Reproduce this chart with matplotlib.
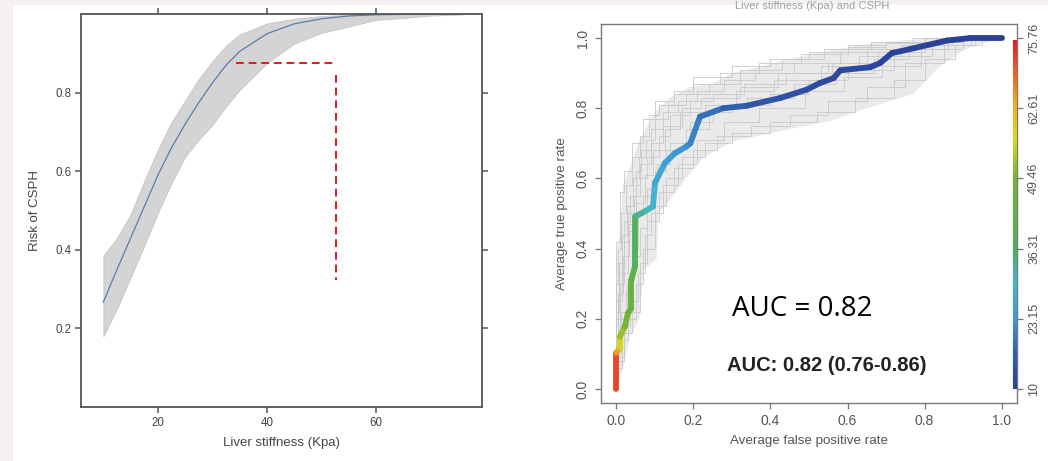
import numpy as np
import matplotlib
matplotlib.use("Agg")
import matplotlib.pyplot as plt
from matplotlib.collections import LineCollection
from matplotlib.colors import LinearSegmentedColormap, Normalize
from matplotlib.patches import Rectangle

plt.rcParams['font.family'] = ['Liberation Sans', 'DejaVu Sans']

# ---- left panel: risk of CSPH vs liver stiffness ----
ls_x = [10, 12.5, 15, 17.5, 20, 22.5, 25, 27.5, 30, 32.5, 35, 40, 45, 50, 55, 60, 65, 70, 76]
risk = [0.267, 0.35, 0.43, 0.51, 0.59, 0.66, 0.72, 0.775, 0.825, 0.87, 0.905, 0.95,
        0.975, 0.988, 0.995, 0.998, 0.999, 1.0, 1.0]
risk_hi = [0.385, 0.43, 0.49, 0.575, 0.655, 0.725, 0.78, 0.835, 0.88, 0.92, 0.948, 0.976,
           0.988, 0.995, 0.998, 1.0, 1.0, 1.0, 1.0]
risk_lo = [0.18, 0.25, 0.33, 0.41, 0.494, 0.57, 0.637, 0.68, 0.718, 0.765, 0.807, 0.875,
           0.925, 0.952, 0.968, 0.985, 0.99, 0.996, 0.999]
# red dashed marker
cut_x = [34.3, 52.6]
cut_y = 0.876
cut_vy = [0.845, 0.324]

# ---- right panel: ROC ----
roc_fpr = [0, 0, 0.009, 0.009, 0.022, 0.03, 0.039, 0.039, 0.048, 0.048, 0.074, 0.095, 0.1,
           0.126, 0.152, 0.182, 0.192, 0.217, 0.277, 0.338, 0.425, 0.494, 0.529, 0.564,
           0.581, 0.659, 0.685, 0.715, 0.772, 0.859, 0.919, 1.0]
roc_tpr = [0, 0.103, 0.117, 0.149, 0.178, 0.216, 0.23, 0.311, 0.349, 0.491, 0.506, 0.52, 0.587,
           0.644, 0.672, 0.691, 0.70, 0.776, 0.80, 0.807, 0.829, 0.853, 0.872, 0.886,
           0.908, 0.917, 0.929, 0.957, 0.971, 0.993, 1.0, 1.0]
roc_cut = [75.76, 68, 60, 54, 50, 48, 46, 43, 41, 35, 32, 30, 27, 25, 23.5, 22.5, 21.5, 19.5,
           17, 15.5, 14, 13, 12.5, 12.2, 12, 11.6, 11.4, 11.1, 10.8, 10.4, 10.2, 10]

env_hi_fpr = [0, 0, 0.009, 0.017, 0.035, 0.06, 0.1, 0.14, 0.19, 0.25, 0.3, 0.38, 0.47, 0.58,
              0.69, 0.78, 0.85, 1.0]
env_hi_tpr = [0, 0.39, 0.44, 0.58, 0.63, 0.71, 0.79, 0.83, 0.86, 0.87, 0.9, 0.92, 0.945, 0.97,
              0.988, 0.996, 1.0, 1.0]
env_lo_fpr = [0, 0.017, 0.035, 0.06, 0.07, 0.104, 0.11, 0.14, 0.18, 0.226, 0.3, 0.425, 0.56,
              0.65, 0.77, 0.84, 0.9, 0.95, 1.0]
env_lo_tpr = [0, 0.06, 0.15, 0.2, 0.34, 0.37, 0.5, 0.54, 0.6, 0.66, 0.705, 0.735, 0.765, 0.8,
              0.84, 0.92, 0.965, 0.985, 1.0]

boot_fpr = [
    [0, 0, 0.01, 0.02, 0.04, 0.07, 0.1, 0.15, 0.2, 0.3, 0.4, 0.5, 0.6, 0.7, 0.8, 1.0],
    [0, 0.01, 0.02, 0.03, 0.05, 0.06, 0.09, 0.12, 0.17, 0.22, 0.32, 0.42, 0.55, 0.65, 0.78, 0.9, 1.0],
    [0, 0.02, 0.04, 0.06, 0.08, 0.11, 0.15, 0.2, 0.26, 0.35, 0.45, 0.55, 0.65, 0.75, 0.85, 0.93, 1.0],
    [0, 0.005, 0.015, 0.03, 0.045, 0.06, 0.08, 0.11, 0.14, 0.19, 0.25, 0.33, 0.44, 0.56, 0.68, 0.8, 0.9, 1.0],
    [0, 0.01, 0.025, 0.04, 0.055, 0.07, 0.1, 0.13, 0.18, 0.24, 0.3, 0.4, 0.5, 0.6, 0.72, 0.82, 0.92, 1.0],
    [0, 0.008, 0.02, 0.035, 0.05, 0.065, 0.09, 0.12, 0.16, 0.21, 0.28, 0.36, 0.46, 0.58, 0.7, 0.83, 1.0],
    [0, 0.015, 0.03, 0.05, 0.07, 0.1, 0.13, 0.17, 0.23, 0.3, 0.4, 0.52, 0.62, 0.72, 0.8, 0.88, 0.95, 1.0],
    [0, 0.005, 0.012, 0.025, 0.04, 0.06, 0.085, 0.11, 0.15, 0.2, 0.27, 0.37, 0.48, 0.6, 0.7, 0.8, 0.9, 1.0],
    [0, 0.012, 0.028, 0.042, 0.06, 0.08, 0.105, 0.14, 0.19, 0.25, 0.34, 0.46, 0.57, 0.67, 0.76, 0.86, 1.0],
    [0, 0.004, 0.018, 0.032, 0.052, 0.075, 0.095, 0.125, 0.165, 0.23, 0.31, 0.41, 0.53, 0.63, 0.74, 0.87, 1.0],
    [0, 0.02, 0.035, 0.055, 0.075, 0.09, 0.12, 0.16, 0.21, 0.28, 0.37, 0.49, 0.59, 0.69, 0.79, 0.9, 1.0],
    [0, 0.006, 0.014, 0.028, 0.043, 0.058, 0.078, 0.1, 0.135, 0.18, 0.24, 0.32, 0.43, 0.54, 0.66, 0.77, 1.0],
]
boot_tpr = [
    [0, 0.35, 0.42, 0.56, 0.62, 0.7, 0.77, 0.82, 0.85, 0.89, 0.92, 0.94, 0.96, 0.98, 0.99, 1.0],
    [0, 0.2, 0.3, 0.42, 0.5, 0.58, 0.64, 0.7, 0.75, 0.8, 0.83, 0.86, 0.9, 0.93, 0.97, 0.99, 1.0],
    [0, 0.08, 0.16, 0.22, 0.36, 0.48, 0.56, 0.63, 0.68, 0.72, 0.75, 0.78, 0.82, 0.86, 0.93, 0.98, 1.0],
    [0, 0.15, 0.25, 0.33, 0.45, 0.55, 0.6, 0.66, 0.72, 0.78, 0.82, 0.84, 0.87, 0.9, 0.93, 0.96, 0.99, 1.0],
    [0, 0.12, 0.2, 0.28, 0.4, 0.5, 0.55, 0.62, 0.68, 0.74, 0.79, 0.81, 0.84, 0.88, 0.91, 0.95, 0.98, 1.0],
    [0, 0.25, 0.36, 0.48, 0.55, 0.62, 0.68, 0.74, 0.79, 0.82, 0.85, 0.88, 0.9, 0.93, 0.96, 0.985, 1.0],
    [0, 0.06, 0.14, 0.2, 0.3, 0.4, 0.52, 0.6, 0.66, 0.7, 0.73, 0.76, 0.79, 0.83, 0.88, 0.94, 0.98, 1.0],
    [0, 0.3, 0.4, 0.5, 0.58, 0.66, 0.72, 0.78, 0.81, 0.84, 0.87, 0.9, 0.93, 0.955, 0.975, 0.99, 1.0, 1.0],
    [0, 0.1, 0.22, 0.3, 0.38, 0.46, 0.57, 0.64, 0.7, 0.76, 0.8, 0.83, 0.87, 0.9, 0.94, 0.97, 1.0],
    [0, 0.18, 0.27, 0.38, 0.47, 0.53, 0.61, 0.68, 0.74, 0.79, 0.81, 0.85, 0.88, 0.92, 0.95, 0.98, 1.0],
    [0, 0.09, 0.18, 0.25, 0.33, 0.44, 0.5, 0.58, 0.64, 0.71, 0.76, 0.8, 0.85, 0.89, 0.92, 0.97, 1.0],
    [0, 0.22, 0.33, 0.44, 0.52, 0.6, 0.66, 0.71, 0.77, 0.81, 0.84, 0.87, 0.91, 0.94, 0.97, 0.99, 1.0],
]

cbar_ticks = [0, 0.2, 0.4, 0.6, 0.8, 1.0]
cbar_labels = ['10', '23.15', '36.31', '49.46', '62.61', '75.76']
cut_min, cut_max = 10, 75.76

fig = plt.figure(figsize=(10.48, 4.61), dpi=100)
fig.patch.set_facecolor('#f3f0ef')
fig.patches.append(Rectangle((13 / 1048, 0), 1, 1 - 5 / 461, transform=fig.transFigure,
                             facecolor='white', edgecolor='none', zorder=-1))

# ================= left =================
ax1 = fig.add_axes([81 / 1048, 1 - 407 / 461, 401 / 1048, 393 / 461])
ax1.fill_between(ls_x, risk_lo, risk_hi, facecolor='#d4d4d4', edgecolor='#c6c6c6', lw=0.6)
ax1.plot(ls_x, risk, color='#5a7ea8', lw=0.9)
ax1.plot(cut_x, [cut_y, cut_y], color='#e8141e', lw=1.4, ls=(0, (4, 2.5)))
ax1.plot([cut_x[1], cut_x[1]], cut_vy, color='#e8141e', lw=1.4, ls=(0, (4, 2.5)))
ax1.set_xlim(5.9, 79.4)
ax1.set_ylim(0, 1.0)
ax1.set_xticks([20, 40, 60])
ax1.set_yticks([0.2, 0.4, 0.6, 0.8])
ax1.tick_params(direction='out', length=4, width=1.1, color='#555555', labelcolor='#444444',
                labelsize=8.3, top=True, right=True, pad=3)
for s in ax1.spines.values():
    s.set_color('#555555')
    s.set_linewidth(1.3)
ax1.set_xlabel('Liver stiffness (Kpa)', fontsize=9.5, color='#444444', labelpad=6)
ax1.set_ylabel('Risk of CSPH', fontsize=9.5, color='#444444', labelpad=10)

# ================= right =================
ax2 = fig.add_axes([601 / 1048, 1 - 403 / 461, 416 / 1048, 379 / 461])
band_x = np.concatenate([env_hi_fpr, env_lo_fpr[::-1]])
band_y = np.concatenate([env_hi_tpr, env_lo_tpr[::-1]])
ax2.fill(band_x, band_y, facecolor='#e9e9e9', edgecolor='none', zorder=1)
for bx, by in zip(boot_fpr, boot_tpr):
    ax2.plot(bx, by, drawstyle='steps-pre', color='#c9c9c9', lw=0.6, zorder=2)

cmap = LinearSegmentedColormap.from_list('roc', [
    (0.0, '#2b3f94'), (0.1, '#3360b2'), (0.2, '#3b9ad6'), (0.3, '#45b6cf'),
    (0.4, '#4caf5a'), (0.6, '#76b432'), (0.72, '#d9d822'), (0.82, '#f2a324'),
    (1.0, '#e01c28')])
norm = Normalize(cut_min, cut_max)

pts = np.column_stack([roc_fpr, roc_tpr])
segs = np.stack([pts[:-1], pts[1:]], axis=1)
seg_cut = (np.array(roc_cut[:-1]) + np.array(roc_cut[1:])) / 2
lc = LineCollection(segs, cmap=cmap, norm=norm, linewidths=4.2, capstyle='round',
                    joinstyle='round', zorder=3)
lc.set_array(seg_cut)
ax2.add_collection(lc)

# colour key along the right edge
key_vals = np.linspace(cut_min, cut_max, 200)
key_y = (key_vals - cut_min) / (cut_max - cut_min) * 0.995
key_pts = np.column_stack([np.full_like(key_y, 1.036), key_y])
key_segs = np.stack([key_pts[:-1], key_pts[1:]], axis=1)
kc = LineCollection(key_segs, cmap=cmap, norm=norm, linewidths=3, zorder=3)
kc.set_array(key_vals[:-1])
ax2.add_collection(kc)

ax2.set_xlim(-0.04, 1.04)
ax2.set_ylim(-0.04, 1.04)
ticks = [0, 0.2, 0.4, 0.6, 0.8, 1.0]
ax2.set_xticks(ticks)
ax2.set_xticklabels(['0.0', '0.2', '0.4', '0.6', '0.8', '1.0'])
ax2.set_yticks(ticks)
ax2.set_yticklabels(['0.0', '0.2', '0.4', '0.6', '0.8', '1.0'], rotation=90, va='center')
ax2.tick_params(direction='out', length=4, width=0.9, color='#777777', labelcolor='#555555',
                labelsize=10, pad=4)
for s in ax2.spines.values():
    s.set_color('#7a7a7a')
    s.set_linewidth(1.0)
ax2.set_xlabel('Average false positive rate', fontsize=9.6, color='#555555', labelpad=5)
ax2.set_ylabel('Average true positive rate', fontsize=9.6, color='#555555', labelpad=6)

axr = ax2.twinx()
axr.set_ylim(-0.04, 1.04)
axr.set_yticks(cbar_ticks)
axr.set_yticklabels(cbar_labels, rotation=90, va='center')
axr.tick_params(direction='out', length=4, width=0.9, color='#777777', labelcolor='#555555',
                labelsize=9, pad=4)
for s in axr.spines.values():
    s.set_visible(False)

ax2.text(0.482, 0.228, 'AUC = 0.82', fontsize=20, family='Open Sans', color='black',
         ha='center', va='center', zorder=5)
ax2.text(0.545, 0.066, 'AUC: 0.82 (0.76-0.86)', fontsize=14.5, fontweight='bold',
         color='#222222', ha='center', va='center', zorder=5)

fig.text(812 / 1048, 1 - 9 / 461, 'Liver stiffness (Kpa) and CSPH', fontsize=8,
         color='#a0a0a0', ha='center', va='baseline')

fig.savefig('out.png', dpi=100, facecolor=fig.get_facecolor())
